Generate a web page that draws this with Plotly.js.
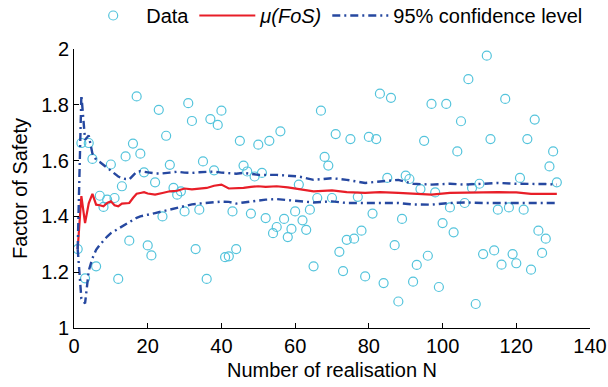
<!DOCTYPE html>
<html>
<head>
<meta charset="utf-8">
<script src="https://cdn.plot.ly/plotly-3.0.1.min.js"></script>
<style>html,body{margin:0;padding:0;background:#fff;}#chart{width:608px;height:387px;}</style>
</head>
<body>
<div id="chart"></div>
<script>
// Realisation index N for the scattered data
const dataN = Array.from({length: 131}, (_, i) => i + 1);
// Factor of Safety of each realisation
const dataFoS = [
  1.283, 1.663, 1.178, 1.663, 1.606, 1.221, 1.474, 1.434, 1.460, 1.586,
  1.466, 1.176, 1.508, 1.615, 1.313, 1.661, 1.830, 1.625, 1.558, 1.296,
  1.260, 1.522, 1.782, 1.400, 1.689, 1.585, 1.502, 1.478, 1.490, 1.418,
  1.806, 1.742, 1.283, 1.424, 1.597, 1.176, 1.749, 1.565, 1.728, 1.779,
  1.254, 1.257, 1.418, 1.283, 1.671, 1.582, 1.561, 1.410, 1.543, 1.657,
  1.556, 1.394, 1.671, 1.340, 1.362, 1.705, 1.391, 1.326, 1.355, 1.418,
  1.514, 1.386, 1.352, 1.424, 1.221, 1.466, 1.779, 1.613, 1.582, 1.466,
  1.695, 1.273, 1.204, 1.316, 1.677, 1.320, 1.470, 1.349, 1.185, 1.685,
  1.410, 1.677, 1.840, 1.161, 1.538, 1.825, 1.297, 1.095, 1.391, 1.546,
  1.534, 1.166, 1.226, 1.498, 1.671, 1.259, 1.803, 1.486, 1.147, 1.376,
  1.803, 1.432, 1.343, 1.633, 1.741, 1.448, 1.892, 1.502, 1.086, 1.517,
  1.265, 1.976, 1.677, 1.278, 1.424, 1.227, 1.821, 1.432, 1.265, 1.232,
  1.538, 1.424, 1.677, 1.209, 1.747, 1.349, 1.269, 1.320, 1.579, 1.633,
  1.522
];
// N positions at which the mean and confidence curves were read
const lineN = [1,2,3,4,5,6,7,8,9,10,11,12,13,14,15,16,17,18,19,20,22,24,26,28,30,32,34,36,38,40,42,44,46,48,50,52,55,58,61,65,70,74,79,83,88,92,97,102,106,111,115,120,124,128,131];
const meanFoS = [1.283,1.473,1.376,1.447,1.481,1.442,1.440,1.436,1.448,1.454,1.440,1.436,1.446,1.446,1.448,1.466,1.481,1.484,1.487,1.482,1.478,1.484,1.490,1.492,1.500,1.497,1.500,1.502,1.510,1.514,1.500,1.500,1.502,1.506,1.508,1.506,1.508,1.504,1.498,1.490,1.493,1.487,1.484,1.487,1.484,1.481,1.478,1.484,1.486,1.486,1.487,1.486,1.481,1.481,1.481];
const upperFoS = [1.283,1.835,1.675,1.690,1.625,1.603,1.595,1.585,1.574,1.564,1.552,1.543,1.538,1.534,1.533,1.545,1.560,1.562,1.561,1.558,1.554,1.554,1.557,1.560,1.557,1.556,1.558,1.560,1.561,1.557,1.554,1.553,1.556,1.552,1.549,1.549,1.549,1.546,1.543,1.531,1.537,1.531,1.520,1.525,1.531,1.517,1.514,1.517,1.514,1.517,1.520,1.517,1.517,1.516,1.514];
const lowerFoS = [1.283,1.105,1.088,1.205,1.250,1.280,1.298,1.315,1.328,1.340,1.348,1.356,1.364,1.370,1.378,1.385,1.395,1.400,1.404,1.406,1.412,1.418,1.424,1.430,1.438,1.443,1.446,1.448,1.450,1.453,1.452,1.446,1.450,1.454,1.457,1.460,1.462,1.458,1.454,1.450,1.454,1.448,1.448,1.448,1.448,1.443,1.442,1.448,1.450,1.448,1.448,1.448,1.448,1.448,1.448];
const xTicks = [0,20,40,60,80,100,120,140];
const yTicks = [1,1.2,1.4,1.6,1.8,2];

const cyan = 'rgb(84,196,220)';
const red = 'rgb(232,30,40)';
const blue = 'rgb(38,72,160)';
const dashDot = '8px,4px,2px,4px';

const traces = [
  {x: dataN, y: dataFoS, type: 'scatter', mode: 'markers', name: 'Data',
   marker: {symbol: 'circle-open', size: 9, color: cyan, line: {width: 1.2, color: cyan}}},
  {x: lineN, y: meanFoS, type: 'scatter', mode: 'lines', name: '<i>μ(FoS)</i>',
   line: {color: red, width: 2.2}},
  {x: lineN, y: upperFoS, type: 'scatter', mode: 'lines', name: '95% confidence level',
   line: {color: blue, width: 2.4, dash: dashDot}, legendgroup: 'ci'},
  {x: lineN, y: lowerFoS, type: 'scatter', mode: 'lines', name: '95% confidence level',
   line: {color: blue, width: 2.4, dash: dashDot}, legendgroup: 'ci', showlegend: false}
];

const font = {family: 'Liberation Sans, Arial, sans-serif', size: 20, color: '#000'};

const layout = {
  width: 608, height: 387,
  margin: {l: 74, r: 18, t: 49, b: 59, pad: 0, autoexpand: false},
  paper_bgcolor: '#fff', plot_bgcolor: '#fff',
  font: font,
  showlegend: true,
  legend: {orientation: 'h', x: 0.012, xanchor: 'left', y: 1.19, yanchor: 'top',
           font: font, bgcolor: 'rgba(0,0,0,0)', itemwidth: 56, tracegroupgap: 0},
  xaxis: {range: [0, 140], tickvals: xTicks, ticks: 'inside', ticklen: 5, tickcolor: '#000',
          showline: true, linecolor: '#000', linewidth: 1, showgrid: false, zeroline: false,
          automargin: false,
          tickfont: font, title: {text: 'Number of realisation N', font: font, standoff: 6}},
  yaxis: {range: [1, 2], tickvals: yTicks, ticks: 'inside', ticklen: 5, tickcolor: '#000',
          showline: true, linecolor: '#000', linewidth: 1, showgrid: false, zeroline: false,
          automargin: false,
          tickfont: font, title: {text: 'Factor of Safety', font: font, standoff: 8}}
};

Plotly.newPlot('chart', traces, layout, {displayModeBar: false, staticPlot: true});
</script>
</body>
</html>
